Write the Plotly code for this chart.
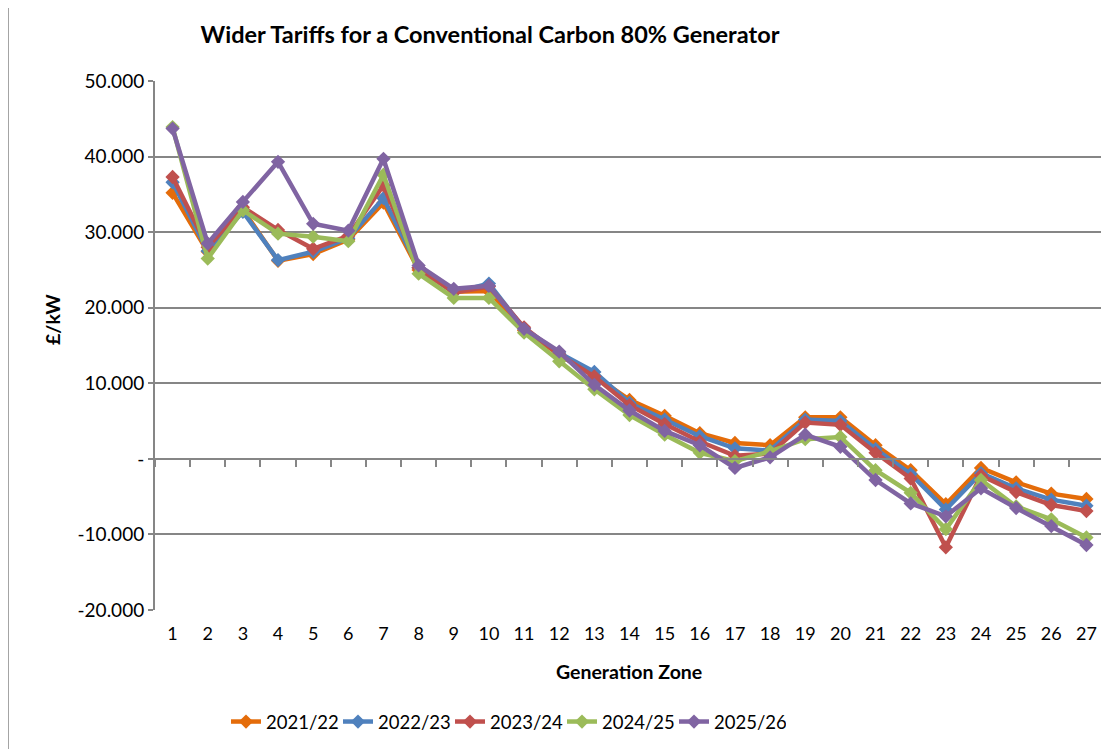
import plotly.graph_objects as go

zones = [str(i) for i in range(1, 28)]
series_names = ["2021/22", "2022/23", "2023/24", "2024/25", "2025/26"]
colors = ["#E46C0A", "#4F81BD", "#C0504D", "#9BBB59", "#8064A2"]

v2021 = [35.2, 27.4, 33.0, 26.2, 27.1, 29.0, 33.9, 25.0, 22.1, 22.2, 17.0, 13.8, 11.0, 7.8, 5.7, 3.4, 2.1, 1.8, 5.5, 5.5, 1.8, -1.5, -6.0, -1.2, -3.1, -4.6, -5.3]
v2022 = [36.6, 27.5, 32.7, 26.3, 27.4, 29.2, 34.5, 25.3, 22.0, 23.2, 17.2, 14.0, 11.5, 7.4, 5.2, 3.0, 1.4, 1.1, 5.2, 5.0, 1.3, -2.0, -6.7, -1.9, -3.9, -5.4, -6.2]
v2023 = [37.3, 28.0, 33.3, 30.3, 27.8, 29.5, 36.2, 25.3, 22.0, 22.8, 17.4, 13.8, 10.9, 7.1, 4.6, 2.3, 0.4, 0.7, 4.8, 4.5, 0.8, -2.6, -11.7, -2.2, -4.4, -6.1, -6.9]
v2024 = [43.9, 26.5, 32.9, 29.8, 29.4, 28.8, 37.6, 24.5, 21.3, 21.3, 16.7, 12.9, 9.2, 5.8, 3.2, 0.8, -0.3, 1.0, 2.6, 2.9, -1.5, -4.5, -9.3, -2.8, -6.3, -8.0, -10.4]
v2025 = [43.7, 28.5, 34.0, 39.3, 31.1, 30.2, 39.7, 25.6, 22.5, 22.9, 17.2, 14.2, 9.8, 6.4, 3.7, 1.8, -1.2, 0.2, 3.2, 1.6, -2.8, -5.9, -7.6, -3.9, -6.5, -8.9, -11.4]
all_values = [v2021, v2022, v2023, v2024, v2025]

y_tickvals = [-20, -10, 0, 10, 20, 30, 40, 50]
y_ticktext = ["-20.000", "-10.000", "-", "10.000", "20.000", "30.000", "40.000", "50.000"]

FONT = "Lato, 'Open Sans', sans-serif"
GRID = "#868686"

# page has an 8px body margin; plot area targeted at page x 155..1104, y 81..610
OFF = 8
PL, PR, PT, PB = 155, 1104, 81, 610
PW, PH = PR - PL, PB - PT
W, H = 1109 - OFF, 749 - OFF


def px(x):
    return (x - PL) / PW


def py(y):
    return (PB - y) / PH


fig = go.Figure()
for name, col, vals in zip(series_names, colors, all_values):
    fig.add_trace(go.Scatter(
        x=zones, y=vals, name=name, mode="lines+markers",
        line=dict(color=col, width=4.5),
        marker=dict(symbol="diamond", size=11, color=col),
    ))

# invisible trace on overlay axis for the zero-crossing category axis
fig.add_trace(go.Scatter(x=zones, y=[None]*len(zones), xaxis="x2", showlegend=False,
                         hoverinfo="skip", mode="lines"))

ymin, ymax = -20, 50
fig.update_layout(
    width=W, height=H,
    margin=dict(l=PL - OFF, r=W - (PR - OFF), t=PT - OFF, b=H - (PB - OFF)),
    paper_bgcolor="white", plot_bgcolor="white",
    font=dict(family=FONT, size=18, color="#000000"),
    title=dict(text="<b>Wider Tariffs for a Conventional Carbon 80% Generator</b>",
               x=px(490), xref="paper", xanchor="center",
               y=1 - (35 - OFF) / H, yref="container", yanchor="middle",
               font=dict(family=FONT, size=23.5, color="#000000")),
    xaxis=dict(type="category", range=[-0.5, 26.5], showgrid=False, showline=False,
               ticks="", ticklabelstandoff=11, tickfont=dict(size=18), zeroline=False),
    xaxis2=dict(type="category", range=[-0.5, 26.5], overlaying="x", anchor="free",
                position=(0 - ymin) / (ymax - ymin), showline=True, linecolor=GRID, linewidth=2,
                ticks="outside", tickson="boundaries", ticklen=7, tickcolor=GRID, tickwidth=2,
                showticklabels=False, showgrid=False, zeroline=False),
    yaxis=dict(range=[ymin, ymax], tickvals=y_tickvals, ticktext=y_ticktext,
               showgrid=True, gridcolor=GRID, gridwidth=2,
               showline=True, linecolor=GRID, linewidth=2,
               ticks="outside", ticklen=5, tickcolor=GRID, tickwidth=2,
               ticklabelstandoff=0, zeroline=False, tickfont=dict(size=19)),
    legend=dict(orientation="h", x=px(226), xanchor="left",
                y=py(722), yanchor="middle",
                entrywidth=67, entrywidthmode="pixels",
                font=dict(family=FONT, size=18.5), bgcolor="rgba(0,0,0,0)"),
    showlegend=True,
)

fig.add_annotation(text="<b>£/kW</b>", textangle=-90, x=px(52), y=py(320),
                   xref="paper", yref="paper", xanchor="center", yanchor="middle",
                   showarrow=False, font=dict(family=FONT, size=19.5, color="#000000"))
fig.add_annotation(text="<b>Generation Zone</b>", x=px(629), y=py(671),
                   xref="paper", yref="paper", xanchor="center", yanchor="middle",
                   showarrow=False, font=dict(family=FONT, size=19.5, color="#000000"))

# chart border
fig.add_shape(type="rect", xref="paper", yref="paper",
              x0=px(8), x1=px(1120), y0=py(760), y1=py(6),
              line=dict(color=GRID, width=1.5), fillcolor="rgba(0,0,0,0)", layer="below")

fig.write_html("out.html")
